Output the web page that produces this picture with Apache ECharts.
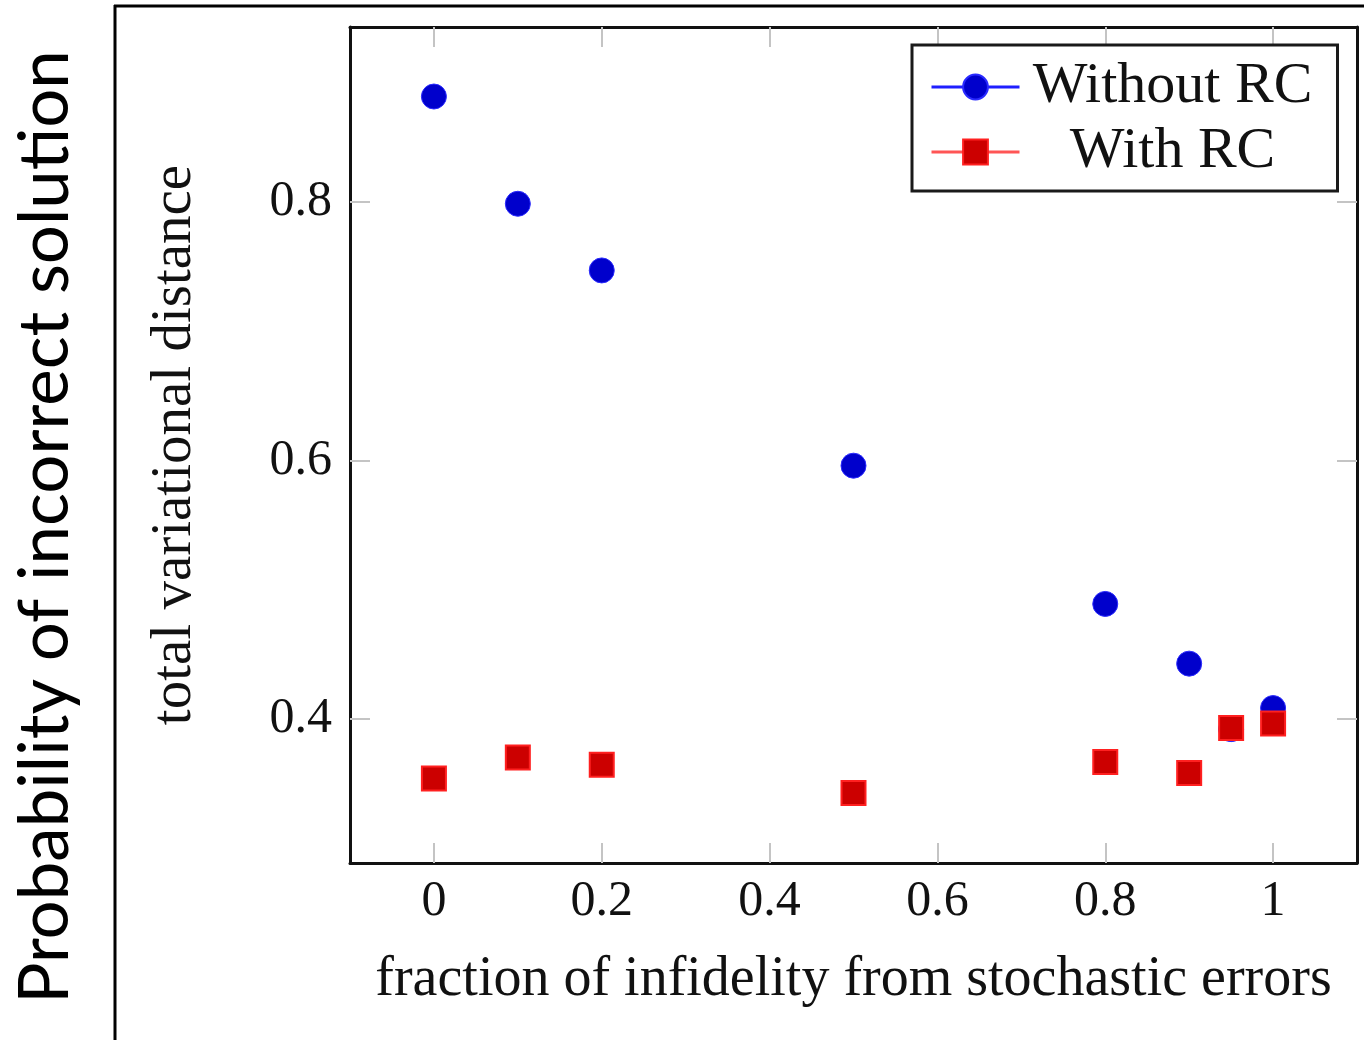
<!DOCTYPE html>
<html>
<head>
    <meta charset="utf-8">
    <title>RC scatter</title>
    <script src="https://cdn.jsdelivr.net/npm/echarts@6/dist/echarts.min.js"></script>
    <style>
        html, body { margin: 0; padding: 0; background: #fff; }
    </style>
</head>
<body>
    <div id="main" style="width:1364px; height:1040px;"></div>
    <script>
        // data
        var fractions = [0, 0.1, 0.2, 0.5, 0.8, 0.9, 0.95, 1]
        var withoutRC = [0.8817, 0.7987, 0.7471, 0.5960, 0.4890, 0.4428, 0.3921, 0.4084]
        var withRC = [0.3538, 0.3701, 0.3646, 0.3427, 0.3667, 0.3581, 0.3930, 0.3964]
        var xTicks = [0, 0.2, 0.4, 0.6, 0.8, 1]
        var yTicks = [0.4, 0.6, 0.8]

        var serif = 'Liberation Serif'
        var pairs = (xs, ys) => xs.map((x, i) => [x, ys[i]])

        var tickStyle = {show: true, inside: true, length: 20, lineStyle: {color: '#c4c4c4', width: 2}}
        var frameLine = {show: true, onZero: false, lineStyle: {color: '#111', width: 3}}

        var myChart = echarts.init(document.getElementById('main'))

        var option = {
            animation: false,
            backgroundColor: '#fff',
            grid: {left: 350, top: 27, right: 7, bottom: 177},
            graphic: [
                {type: 'line', shape: {x1: 115, y1: 5, x2: 115, y2: 1040}, style: {stroke: '#000', lineWidth: 3}},
                {type: 'line', shape: {x1: 114, y1: 6, x2: 1364, y2: 6}, style: {stroke: '#000', lineWidth: 3}},
                {
                    type: 'text', x: 46, y: 527, rotation: Math.PI / 2,
                    style: {
                        text: 'Probability of incorrect solution',
                        font: '69px Lato', fill: '#000',
                        textAlign: 'center', textVerticalAlign: 'middle'
                    }
                }
            ],
            legend: {
                orient: 'vertical',
                left: 912, top: 45,
                padding: [13, 17, 10, 18],
                itemWidth: 88, itemHeight: 31, itemGap: 7,
                borderColor: '#1a1a1a', borderWidth: 3, backgroundColor: '#fff',
                formatter: (name) => '{c|' + name + '}',
                textStyle: {
                    rich: {c: {fontFamily: serif, fontSize: 58, lineHeight: 58, color: '#111', width: 296, align: 'center'}}
                },
                data: [
                    {name: 'Without RC', lineStyle: {color: '#1f1fff', width: 3, opacity: 1, type: 'solid'}},
                    {name: 'With RC', lineStyle: {color: '#ff5555', width: 3, opacity: 1, type: 'solid'}}
                ]
            },
            xAxis: [
                {
                    type: 'value', min: -0.1, max: 1.1, position: 'bottom',
                    name: 'fraction of infidelity from stochastic errors',
                    nameLocation: 'middle', nameGap: 89,
                    nameTextStyle: {fontFamily: serif, fontSize: 56, color: '#111'},
                    axisLine: frameLine,
                    axisTick: Object.assign({customValues: xTicks}, tickStyle),
                    axisLabel: {customValues: xTicks, margin: 14, fontFamily: serif, fontSize: 50, color: '#111'},
                    splitLine: {show: false}
                },
                {
                    type: 'value', min: -0.1, max: 1.1, position: 'top',
                    axisLine: frameLine,
                    axisTick: Object.assign({customValues: xTicks}, tickStyle),
                    axisLabel: {show: false},
                    splitLine: {show: false}
                }
            ],
            yAxis: [
                {
                    type: 'value', min: 0.2885, max: 0.9355, position: 'left',
                    name: 'total variational distance',
                    nameLocation: 'middle', nameGap: 146,
                    nameTextStyle: {fontFamily: serif, fontSize: 57, color: '#111'},
                    axisLine: frameLine,
                    axisTick: Object.assign({customValues: yTicks}, tickStyle),
                    axisLabel: {customValues: yTicks, margin: 18, fontFamily: serif, fontSize: 50, color: '#111'},
                    splitLine: {show: false}
                },
                {
                    type: 'value', min: 0.2885, max: 0.9355, position: 'right',
                    axisLine: frameLine,
                    axisTick: Object.assign({customValues: yTicks}, tickStyle),
                    axisLabel: {show: false},
                    splitLine: {show: false}
                }
            ],
            series: [
                {
                    name: 'Without RC',
                    type: 'line',
                    data: pairs(fractions, withoutRC),
                    symbol: 'circle',
                    symbolSize: 25,
                    showSymbol: true,
                    lineStyle: {width: 0, opacity: 0},
                    itemStyle: {color: '#0000cc', borderColor: '#2a2aff', borderWidth: 1},
                    emphasis: {disabled: true}
                },
                {
                    name: 'With RC',
                    type: 'line',
                    data: pairs(fractions, withRC),
                    symbol: 'rect',
                    symbolSize: 24,
                    showSymbol: true,
                    lineStyle: {width: 0, opacity: 0},
                    itemStyle: {color: '#cc0000', borderColor: '#ff2020', borderWidth: 2},
                    emphasis: {disabled: true}
                }
            ]
        }

        myChart.setOption(option)
    </script>
</body>
</html>
